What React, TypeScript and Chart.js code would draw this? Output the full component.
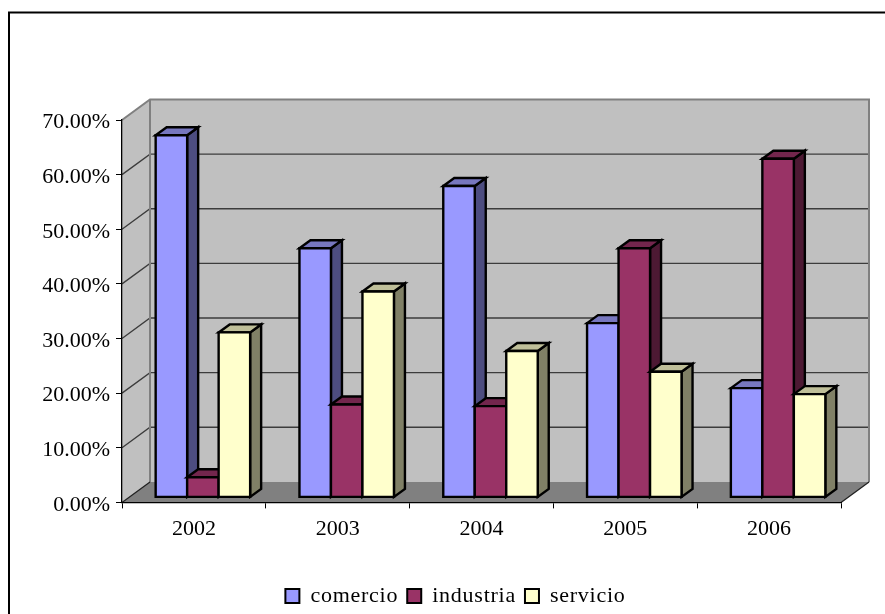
import React, { useEffect, useRef } from "react";
import { Chart, registerables } from "chart.js";

Chart.register(...registerables);

const years = ["2002", "2003", "2004", "2005", "2006"];
const comercio = [66.3, 45.6, 57.0, 31.9, 20.0];
const industria = [3.7, 17.0, 16.7, 45.6, 62.0];
const servicio = [30.2, 37.7, 26.8, 23.0, 18.9];

const FONT = "'Liberation Serif', serif";
const WALL = "#C0C0C0";
const FLOOR = "#808080";
const EDGE = "#808080";
const GRID = "#3c3c3c";

// Oblique projection of the box the columns stand in, in pixels.
const BOX_DX = 28;
const BOX_DY = -20.5;
// Where a column sits inside that box, and how deep it is.
const BAR_SHIFT_X = 9;
const BAR_SHIFT_Y = -5;
const BAR_DX = 11;
const BAR_DY = -8;
const BAR_OUTLINE = 2.4;
// The legend row is centred under the box rather than under the whole canvas.
const LEGEND_SHIFT = 35;

type Shade = { top: string; side: string };
const shades: Shade[] = [
  { top: "#7777BF", side: "#4D4D80" },
  { top: "#73264D", side: "#4D1933" },
  { top: "#BFBF99", side: "#808066" },
];

function polygon(ctx: CanvasRenderingContext2D, pts: number[][], fill?: string, stroke?: string, lw = BAR_OUTLINE) {
  ctx.beginPath();
  pts.forEach(([x, y], i) => (i ? ctx.lineTo(x, y) : ctx.moveTo(x, y)));
  ctx.closePath();
  if (fill) {
    ctx.fillStyle = fill;
    ctx.fill();
  }
  if (stroke) {
    ctx.strokeStyle = stroke;
    ctx.lineWidth = lw;
    ctx.lineJoin = "miter";
    ctx.stroke();
  }
}

// Runs a legend method with wider letter spacing, so measuring and drawing agree.
function spaced(chart: any, name: "fit" | "draw") {
  const legend = chart.legend;
  const original = legend[name];
  legend[name] = function (...rest: any[]) {
    const { ctx } = chart;
    ctx.save();
    ctx.letterSpacing = "0.75px";
    original.apply(this, rest);
    ctx.restore();
  };
}

// Page background, outer frame, walls, floor, projected grid lines and 3D columns.
const roomPlugin = {
  id: "room",
  afterInit(chart: any) {
    spaced(chart, "fit");
    spaced(chart, "draw");
  },
  afterLayout(chart: any) {
    chart.legend.left += LEGEND_SHIFT;
    chart.legend.right += LEGEND_SHIFT;
  },
  beforeDraw(chart: any) {
    const { ctx, width, height, chartArea: a, scales } = chart;
    ctx.save();
    ctx.fillStyle = "#fff";
    ctx.fillRect(0, 0, width, height);
    ctx.strokeStyle = "#000";
    ctx.lineWidth = 2;
    ctx.beginPath();
    ctx.moveTo(9, height);
    ctx.lineTo(9, 12.5);
    ctx.lineTo(width, 12.5);
    ctx.stroke();

    const { left: l, right: r, top: t, bottom: b } = a;
    polygon(ctx, [[l, t], [l + BOX_DX, t + BOX_DY], [l + BOX_DX, b + BOX_DY], [l, b]], WALL);
    polygon(ctx, [[l + BOX_DX, t + BOX_DY], [r + BOX_DX, t + BOX_DY], [r + BOX_DX, b + BOX_DY], [l + BOX_DX, b + BOX_DY]], WALL);
    polygon(ctx, [[l, b], [l + BOX_DX, b + BOX_DY], [r + BOX_DX, b + BOX_DY], [r, b]], FLOOR);

    ctx.strokeStyle = GRID;
    ctx.lineWidth = 1.3;
    for (const tick of scales.y.ticks) {
      if (tick.value === 0 || tick.value === 70) continue;
      const y = scales.y.getPixelForValue(tick.value);
      ctx.beginPath();
      ctx.moveTo(l, y);
      ctx.lineTo(l + BOX_DX, y + BOX_DY);
      ctx.lineTo(r + BOX_DX, y + BOX_DY);
      ctx.stroke();
    }

    ctx.strokeStyle = EDGE;
    ctx.lineWidth = 2;
    ctx.beginPath();
    ctx.moveTo(l, t);
    ctx.lineTo(l + BOX_DX, t + BOX_DY);
    ctx.lineTo(r + BOX_DX, t + BOX_DY);
    ctx.lineTo(r + BOX_DX, b + BOX_DY);
    ctx.moveTo(l + BOX_DX, t + BOX_DY);
    ctx.lineTo(l + BOX_DX, b + BOX_DY);
    ctx.stroke();

    ctx.strokeStyle = "#222";
    ctx.lineWidth = 1.3;
    ctx.beginPath();
    ctx.moveTo(l, b);
    ctx.lineTo(l + BOX_DX, b + BOX_DY);
    ctx.moveTo(r, b);
    ctx.lineTo(r + BOX_DX, b + BOX_DY);
    ctx.stroke();
    ctx.restore();
  },
  // Series are painted left to right, so each column hides its left neighbour's side face.
  beforeDatasetsDraw(chart: any) {
    const { ctx } = chart;
    ctx.save();
    ctx.translate(BAR_SHIFT_X, BAR_SHIFT_Y);
    chart.getSortedVisibleDatasetMetas().forEach((meta: any) => {
      const shade = shades[meta.index];
      const boxes = meta.data.map((bar: any) => bar.getProps(["x", "y", "base", "width"], true));
      for (const { x, y, base, width } of boxes) {
        const x0 = x - width / 2;
        const x1 = x + width / 2;
        polygon(ctx, [[x1, y], [x1 + BAR_DX, y + BAR_DY], [x1 + BAR_DX, base + BAR_DY], [x1, base]], shade.side, "#000");
        polygon(ctx, [[x0, y], [x0 + BAR_DX, y + BAR_DY], [x1 + BAR_DX, y + BAR_DY], [x1, y]], shade.top, "#000");
      }
      meta.controller.draw();
      for (const { x, y, base, width } of boxes) {
        polygon(ctx, [[x - width / 2, y], [x + width / 2, y], [x + width / 2, base], [x - width / 2, base]], undefined, "#000");
      }
    });
    ctx.restore();
    return false;
  },
};

export default function App() {
  const ref = useRef<HTMLCanvasElement>(null);

  useEffect(() => {
    const chart = new Chart(ref.current!, {
      type: "bar",
      data: {
        labels: years,
        datasets: [
          { label: "comercio", data: comercio, backgroundColor: "#9999FF" },
          { label: "industria", data: industria, backgroundColor: "#993366" },
          { label: "servicio", data: servicio, backgroundColor: "#FFFFCC" },
        ],
      },
      options: {
        responsive: false,
        animation: false,
        layout: { padding: { left: 0, right: 44, top: 120, bottom: -3 } },
        datasets: { bar: { barPercentage: 1, categoryPercentage: 0.657, borderWidth: 0 } },
        plugins: {
          tooltip: { enabled: false },
          title: { display: false },
          legend: {
            position: "bottom",
            labels: {
              font: { family: FONT, size: 22 },
              color: "#000",
              boxWidth: 14,
              boxHeight: 14,
              padding: 9,
              generateLabels(c: any) {
                return Chart.defaults.plugins.legend.labels
                  .generateLabels(c)
                  .map((item: any) => ({ ...item, strokeStyle: "#000", lineWidth: 2 }));
              },
            },
          },
        },
        scales: {
          x: {
            offset: true,
            afterFit: (s: any) => {
              s.height = 73.6;
            },
            grid: { offset: true, drawOnChartArea: false, color: "#000", tickLength: 6, tickWidth: 1 },
            border: { color: "#000", width: 1.3 },
            ticks: { font: { family: FONT, size: 22 }, color: "#000", padding: 8, maxRotation: 0 },
          },
          y: {
            min: 0,
            max: 70,
            afterFit: (s: any) => {
              s.width = 122;
            },
            grid: { drawOnChartArea: false, color: "#000", tickLength: 6, tickWidth: 1 },
            border: { color: "#000", width: 1.3 },
            ticks: {
              stepSize: 10,
              font: { family: FONT, size: 22 },
              color: "#000",
              padding: 6,
              labelOffset: 2.5,
              callback: (v: any) => Number(v).toFixed(2) + "%",
            },
          },
        },
      },
      plugins: [roomPlugin],
    } as any);
    return () => chart.destroy();
  }, []);

  return (
    <canvas
      ref={ref}
      width={885}
      height={614}
      style={{ position: "fixed", left: 0, top: 0, display: "block" }}
    />
  );
}
